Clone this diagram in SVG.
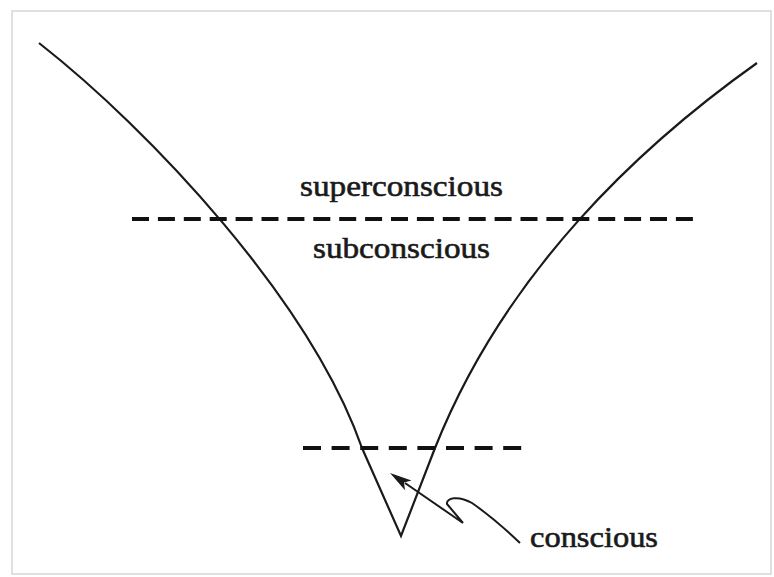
<svg xmlns="http://www.w3.org/2000/svg" width="774" height="577" viewBox="0 0 774 577">
  <style>
    .curve { fill: none; stroke: #1a1a1a; stroke-width: 2.2; stroke-linejoin: miter; }
    .dash { fill: none; stroke: #111; stroke-width: 4; }
    .lbl { font-family: "Liberation Serif", "Times New Roman", serif; font-size: 30px; fill: #1a1a1a; stroke: #1a1a1a; stroke-width: 0.6; }
    .arrow { fill: none; stroke: #1a1a1a; stroke-width: 2; }
    .head { fill: #1a1a1a; stroke: none; }
  </style>
  <rect x="0" y="0" width="774" height="577" fill="#ffffff"/>
  <rect x="12" y="11" width="759" height="563" fill="#ffffff" stroke="#d6d6d6" stroke-width="1.5"/>

  <g id="funnel">
    <path class="curve" d="M39,43 C150,130 310,300 362,448 L401,536 L435,448 C505,272 640,146 757,63"/>
  </g>

  <g id="connectors">
    <line id="upper-boundary" class="dash" x1="132" y1="219" x2="693" y2="219" stroke-dasharray="17 8.9"/>
    <line id="lower-boundary" class="dash" x1="303" y1="448" x2="523" y2="448" stroke-dasharray="18 10.6"/>
    <g id="conscious-arrow">
      <path class="arrow" d="M405,483 L463,523 L447,504 C446,498 458,495 472,503 Q495,519 520,543"/>
      <polygon class="head" points="390,473 411.5,480.6 404,482.6 405,490.2"/>
    </g>
  </g>

  <g id="superconscious">
    <text class="lbl" x="300" y="196" textLength="203" lengthAdjust="spacingAndGlyphs">superconscious</text>
  </g>
  <g id="subconscious">
    <text class="lbl" x="313" y="258" textLength="177" lengthAdjust="spacingAndGlyphs">subconscious</text>
  </g>
  <g id="conscious">
    <text class="lbl" x="530" y="547" textLength="128" lengthAdjust="spacingAndGlyphs">conscious</text>
  </g>
</svg>
